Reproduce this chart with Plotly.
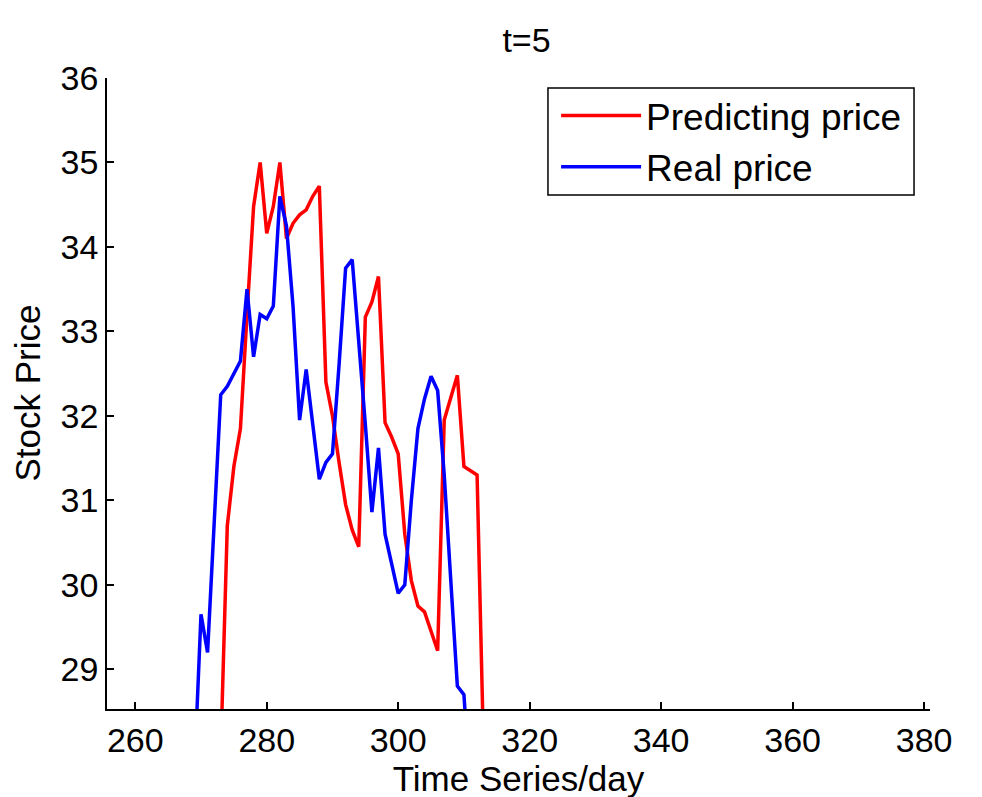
import plotly.graph_objects as go

# Data
days_pred = list(range(273, 314))
pred_price = [28.0, 30.7, 31.4, 31.85, 33.2, 34.48, 35.0, 34.16, 34.48, 35.0,
              34.1, 34.28, 34.38, 34.44, 34.6, 34.72, 32.4, 32.0, 31.45, 30.95,
              30.65, 30.45, 33.17, 33.35, 33.65, 31.92, 31.75, 31.55, 30.6, 30.05,
              29.75, 29.68, 29.45, 29.22, 31.95, 32.2, 32.48, 31.4, 31.35, 31.3,
              28.0]

days_real = list(range(269, 312))
real_price = [27.8, 29.65, 29.2, 30.8, 32.25, 32.35, 32.5, 32.65, 33.5, 32.7,
              33.2, 33.15, 33.3, 34.6, 34.25, 33.3, 31.95, 32.55, 31.9, 31.25,
              31.45, 31.55, 32.6, 33.75, 33.85, 32.9, 31.9, 30.86, 31.62, 30.6,
              30.25, 29.9, 30.0, 31.0, 31.85, 32.2, 32.47, 32.3, 31.3, 30.1,
              28.8, 28.7, 27.5]

x_ticks = [260, 280, 300, 320, 340, 360, 380]
y_ticks = [29, 30, 31, 32, 33, 34, 35, 36]

FONT = "Liberation Sans, Arial, sans-serif"
FS = 34

fig = go.Figure()
fig.add_trace(go.Scatter(x=days_pred, y=pred_price, mode="lines",
                         name="Predicting price",
                         line=dict(color="#ff0000", width=3.5)))
fig.add_trace(go.Scatter(x=days_real, y=real_price, mode="lines",
                         name="Real price",
                         line=dict(color="#0000ff", width=3.5)))

fig.update_layout(
    width=982, height=797,
    paper_bgcolor="white", plot_bgcolor="white",
    margin=dict(l=99, r=60, t=70, b=96, autoexpand=False),
    font=dict(family=FONT, size=FS, color="black"),
    title=dict(text="t=5", x=0.528, xanchor="center", y=0.96, yanchor="middle",
               font=dict(family=FONT, size=FS, color="black")),
    showlegend=True,
    legend=dict(x=0.5457, y=0.9888, xanchor="left", yanchor="top",
                bgcolor="rgba(0,0,0,0)", borderwidth=0,
                font=dict(family=FONT, size=37, color="black"),
                itemwidth=80, tracegroupgap=0),
    shapes=[dict(type="rect", xref="paper", yref="paper",
                 x0=0.5358, x1=0.9806, y0=0.8146, y1=0.9842,
                 line=dict(color="black", width=1.5), fillcolor="white",
                 layer="above")],
    annotations=[dict(text="Stock Price", textangle=-90, showarrow=False,
                      xref="paper", yref="paper", x=-0.0972, y=0.5,
                      xanchor="center", yanchor="middle",
                      font=dict(family=FONT, size=35, color="black"))],
)
fig.update_xaxes(range=[255.7, 380.9], tickvals=x_ticks,
                 ticktext=[str(v) for v in x_ticks], automargin=False,
                 showgrid=False, zeroline=False,
                 showline=True, linecolor="black", linewidth=1.5,
                 ticks="inside", ticklen=7, tickcolor="black", tickwidth=1.5,
                 tickfont=dict(family=FONT, size=FS, color="black"),
                 title=dict(text="Time Series/day", standoff=0,
                            font=dict(family=FONT, size=35, color="black")))
fig.update_yaxes(range=[28.53, 36], tickvals=y_ticks,
                 ticktext=[str(v) for v in y_ticks], automargin=False,
                 showgrid=False, zeroline=False,
                 showline=True, linecolor="black", linewidth=1.5,
                 ticks="inside", ticklen=7, tickcolor="black", tickwidth=1.5,
                 tickfont=dict(family=FONT, size=FS, color="black"))

fig.write_html("out.html")
